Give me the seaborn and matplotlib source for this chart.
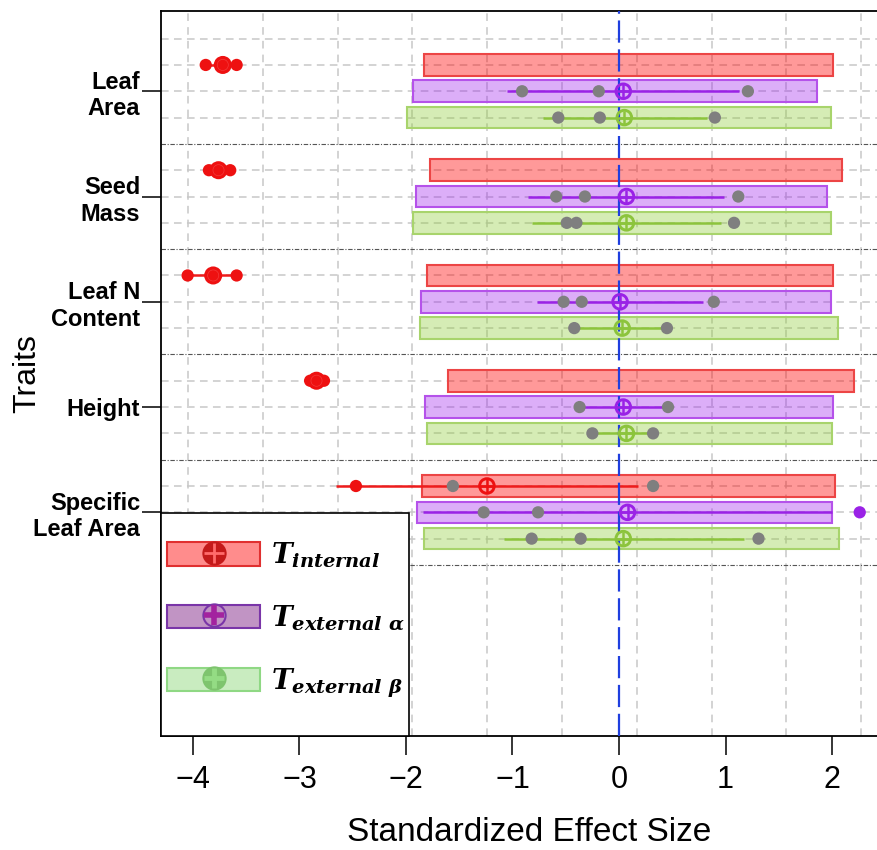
import numpy as np
import pandas as pd
import matplotlib
matplotlib.use("Agg")
import matplotlib.pyplot as plt
from matplotlib.patches import Patch, Rectangle
from matplotlib.lines import Line2D
from matplotlib.legend_handler import HandlerTuple
import seaborn as sns

# ---------------------------------------------------------------------------
# Veri
# ---------------------------------------------------------------------------
traits = ["Leaf\nArea", "Seed\nMass", "Leaf N\nContent", "Height", "Specific\nLeaf Area"]
series = ["internal", "external_a", "external_b"]
series_labels = [r"$T_{internal}$", r"$T_{external\ \alpha}$", r"$T_{external\ \beta}$"]

# null model zarfı (kutular)
bar_lo_internal = [-1.83, -1.77, -1.80, -1.61, -1.85]
bar_hi_internal = [2.01, 2.09, 2.01, 2.21, 2.03]
bar_lo_external_a = [-1.93, -1.91, -1.86, -1.82, -1.90]
bar_hi_external_a = [1.86, 1.95, 1.99, 2.01, 2.00]
bar_lo_external_b = [-1.99, -1.93, -1.87, -1.80, -1.83]
bar_hi_external_b = [1.99, 1.99, 2.06, 2.00, 2.07]

# ortalama SES
center_internal = [-3.72, -3.76, -3.81, -2.84, -1.24]
center_external_a = [0.04, 0.07, 0.01, 0.04, 0.08]
center_external_b = [0.05, 0.07, 0.03, 0.07, 0.04]

# aralık çizgileri
ci_lo_internal = [-3.88, -3.85, -4.05, -2.90, -2.66]
ci_hi_internal = [-3.59, -3.65, -3.59, -2.77, 0.18]
ci_lo_external_a = [-1.05, -0.85, -0.77, -0.37, -1.84]
ci_hi_external_a = [1.13, 0.99, 0.79, 0.46, 2.00]
ci_lo_external_b = [-0.71, -0.82, -0.42, -0.25, -1.08]
ci_hi_external_b = [0.83, 0.96, 0.45, 0.32, 1.17]

# tekil noktalar
points_internal = [[-3.88, -3.59], [-3.85, -3.65], [-4.05, -3.59], [-2.90, -2.77], [-2.47, -1.56, 0.32]]
points_external_a = [[-0.91, -0.19, 1.21], [-0.59, -0.32, 1.12], [-0.52, -0.35, 0.89], [-0.37, 0.46], [-1.27, -0.76, 2.26]]
points_external_b = [[-0.57, -0.18, 0.90], [-0.49, -0.40, 1.08], [-0.42, 0.45], [-0.25, 0.32], [-0.82, -0.36, 1.31]]

x_ticks = [-4, -3, -2, -1, 0, 1, 2]

bar_lo = {"internal": bar_lo_internal, "external_a": bar_lo_external_a, "external_b": bar_lo_external_b}
bar_hi = {"internal": bar_hi_internal, "external_a": bar_hi_external_a, "external_b": bar_hi_external_b}
center = {"internal": center_internal, "external_a": center_external_a, "external_b": center_external_b}
ci_lo = {"internal": ci_lo_internal, "external_a": ci_lo_external_a, "external_b": ci_lo_external_b}
ci_hi = {"internal": ci_hi_internal, "external_a": ci_hi_external_a, "external_b": ci_hi_external_b}
points = {"internal": points_internal, "external_a": points_external_a, "external_b": points_external_b}

# renkler
fill = {"internal": (1.0, 0.0, 0.0, 0.40), "external_a": (0.62, 0.12, 0.93, 0.36), "external_b": (0.55, 0.80, 0.20, 0.36)}
edge = {"internal": "#ec4545", "external_a": "#b552ea", "external_b": "#a8d46c"}
line = {"internal": "#ee1c1c", "external_a": "#9a22e6", "external_b": "#8cc43c"}
palette = {"ns": "#7f7f7f", "internal": "#ee1111", "external_a": "#9a22e6", "external_b": "#8cc43c"}

# ---------------------------------------------------------------------------
# Tablolar
# ---------------------------------------------------------------------------
satirlar = []
noktalar = []
for s, ad in enumerate(series):
    for g in range(len(traits)):
        y = 4 * g + s + 1
        lo, hi = bar_lo[ad][g], bar_hi[ad][g]
        satirlar.append(dict(series=ad, y=y, lo=lo, hi=hi, c=center[ad][g],
                             ci_lo=ci_lo[ad][g], ci_hi=ci_hi[ad][g]))
        for v in points[ad][g]:
            noktalar.append(dict(x=v, y=y, kind=ad if (v < lo or v > hi) else "ns"))
df = pd.DataFrame(satirlar)
pts = pd.DataFrame(noktalar)

# ---------------------------------------------------------------------------
# Çizim
# ---------------------------------------------------------------------------
sns.set_style("white")
plt.rcParams["font.family"] = ["Liberation Sans", "DejaVu Sans"]
plt.rcParams["text.color"] = "black"
plt.rcParams["axes.labelcolor"] = "black"
plt.rcParams["xtick.color"] = "black"
plt.rcParams["ytick.color"] = "black"
plt.rcParams["mathtext.fontset"] = "custom"
plt.rcParams["mathtext.it"] = "DejaVu Serif:italic:bold"
plt.rcParams["mathtext.rm"] = "DejaVu Serif:bold"
plt.rcParams["mathtext.bf"] = "DejaVu Serif:bold"

fig = plt.figure(figsize=(8.77, 8.5), dpi=100)
ax = fig.add_axes([161 / 877, 1 - 736 / 850, 736 / 877, 725 / 850])

# ızgara
for gx in np.arange(-4.047, 2.4, 0.7023):
    ax.axvline(gx, color="#c8c8c8", lw=1.1, dashes=(5, 4), zorder=0.5)
for gy in range(0, 21):
    if gy % 4 == 0 and gy > 0:
        ax.axhline(gy, color="#555555", lw=0.8, ls=(0, (4, 1.5, 1, 1.5)), zorder=0.6)
    else:
        ax.axhline(gy, color="#c8c8c8", lw=1.1, dashes=(5, 3.5), zorder=0.5)

# kutular
for ad in series:
    d = df[df.series == ad]
    ax.barh(d.y, d.hi - d.lo, left=d.lo, height=0.82, color=fill[ad],
            edgecolor=edge[ad], linewidth=1.5, zorder=1)
    ax.hlines(d.y, d.ci_lo, d.ci_hi, colors=line[ad], lw=1.8, zorder=3)

ax.axvline(0, color="#1f3fdf", lw=1.6, dashes=(10, 3), zorder=3.5)

sns.scatterplot(data=pts, x="x", y="y", hue="kind", palette=palette, s=78,
                edgecolor="none", linewidth=0, legend=False, zorder=4, ax=ax)

# ortalama işaretleri: zarf içindeyse ⊕, dışındaysa dolu daire
for _, r in df.iterrows():
    col = palette[r.series]
    if r.lo <= r.c <= r.hi:
        ax.scatter(r.c, r.y, s=10.5 ** 2, facecolors="none", edgecolors=col, linewidths=2.1, zorder=6)
        ax.scatter(r.c, r.y, s=10.5 ** 2, marker="+", c=col, linewidths=1.8, zorder=6)
    else:
        ax.scatter(r.c, r.y, s=13 ** 2, c=col, edgecolors="none", zorder=6)
        ax.scatter(r.c, r.y, s=8 ** 2, facecolors="none", edgecolors=(1, 0.6, 0.6, 0.3),
                   linewidths=0.5, zorder=6.5)

ax.set_xlim(-4.30, 2.61)
ax.set_ylim(26.5, -1.05)
ax.set_xticks(x_ticks)
ax.set_yticks([4 * g + 2 for g in range(len(traits))])
ax.set_yticklabels(traits, fontsize=17, fontweight="bold")
ax.tick_params(axis="x", labelsize=22, length=14, width=1.1, pad=7, direction="out", bottom=True)
ax.tick_params(axis="y", length=14, width=1.1, pad=1, direction="out", left=True)
ax.set_xlabel("Standardized Effect Size", fontsize=24)
ax.set_ylabel("Traits", fontsize=23)
ax.xaxis.set_label_coords(0.5, -0.112)
ax.yaxis.set_label_coords(-0.162, 0.5)
for sp in ax.spines.values():
    sp.set_color("black")
    sp.set_linewidth(1.3)

# lejant
kutu = Rectangle((0, 0), 248 / 736, 223 / 725, transform=ax.transAxes, facecolor="white",
                 edgecolor="black", lw=1.2, zorder=10, clip_on=False)
ax.add_patch(kutu)
leg_fill = ["#ff8c8c", "#c194c4", "#c9ecc0"]
leg_edge = ["#e03030", "#7a35a8", "#8fd884"]
leg_face = ["#c41a1a", "none", "#7ec46e"]
leg_ring = ["#c41a1a", "#7a35a8", "#7ec46e"]
leg_plus = ["#ff6b6b", "#a3239f", "#94dc84"]
leg_plus_w = [2, 4, 3.5]
handles = []
for i in range(3):
    handles.append((
        Patch(facecolor=leg_fill[i], edgecolor=leg_edge[i], lw=1.5),
        Line2D([], [], ls="none", marker="o", ms=16, mfc=leg_face[i], mec=leg_ring[i], mew=1.5),
        Line2D([], [], ls="none", marker="+", ms=15, mec=leg_plus[i], mew=leg_plus_w[i]),
    ))
leg = ax.legend(handles, series_labels, handler_map={tuple: HandlerTuple(ndivide=1)},
                loc="center left", bbox_to_anchor=(0.0, (736 - 620) / 725), borderaxespad=0,
                frameon=False, fontsize=20, handlelength=3.35, handleheight=0.94,
                handletextpad=0.4, labelspacing=1.2, borderpad=0.22, numpoints=1)
leg.set_zorder(11)

plt.savefig("out.png", dpi=100)
plt.close(fig)
